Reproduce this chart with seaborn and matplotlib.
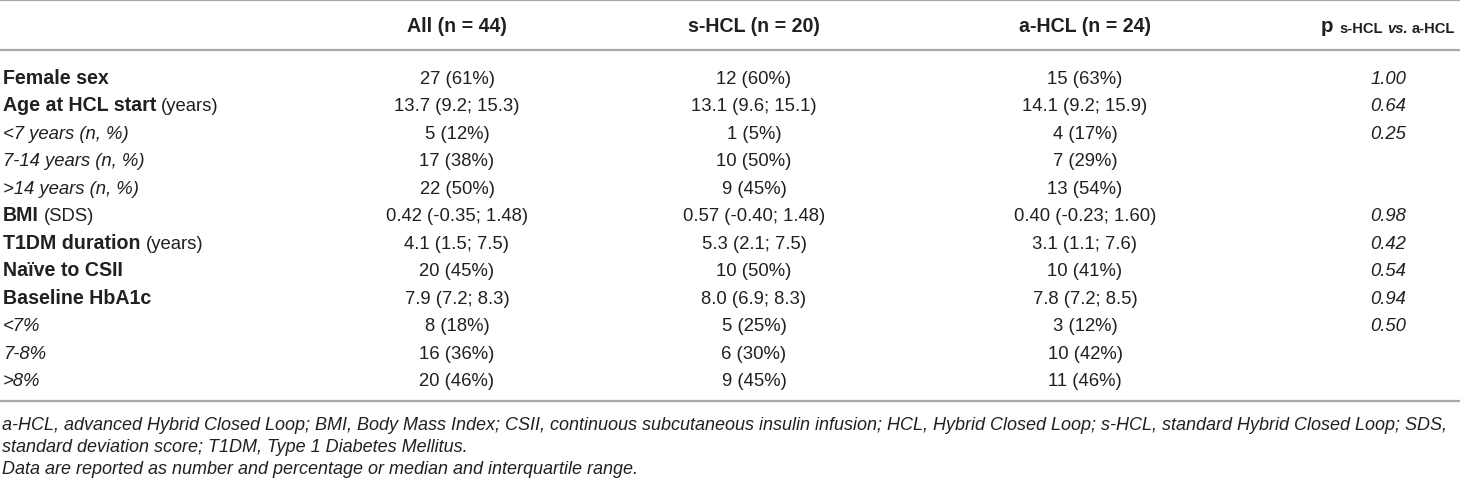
import matplotlib
matplotlib.use("Agg")
import matplotlib.pyplot as plt
import seaborn as sns

# ---------------- data ----------------
row_labels = ["Female sex", "Age at HCL start", "<7 years (n, %)", "7-14 years (n, %)",
              ">14 years (n, %)", "BMI", "T1DM duration", "Naïve to CSII",
              "Baseline HbA1c", "<7%", "7-8%", ">8%"]
label_suffix = ["", "(years)", "", "", "", "(SDS)", "(years)", "", "", "", "", ""]
label_bold = [True, True, False, False, False, True, True, True, True, False, False, False]

col_headers = ["All (n = 44)", "s-HCL (n = 20)", "a-HCL (n = 24)"]
all_vals = ["27 (61%)", "13.7 (9.2; 15.3)", "5 (12%)", "17 (38%)", "22 (50%)",
            "0.42 (-0.35; 1.48)", "4.1 (1.5; 7.5)", "20 (45%)", "7.9 (7.2; 8.3)",
            "8 (18%)", "16 (36%)", "20 (46%)"]
shcl_vals = ["12 (60%)", "13.1 (9.6; 15.1)", "1 (5%)", "10 (50%)", "9 (45%)",
             "0.57 (-0.40; 1.48)", "5.3 (2.1; 7.5)", "10 (50%)", "8.0 (6.9; 8.3)",
             "5 (25%)", "6 (30%)", "9 (45%)"]
ahcl_vals = ["15 (63%)", "14.1 (9.2; 15.9)", "4 (17%)", "7 (29%)", "13 (54%)",
             "0.40 (-0.23; 1.60)", "3.1 (1.1; 7.6)", "10 (41%)", "7.8 (7.2; 8.5)",
             "3 (12%)", "10 (42%)", "11 (46%)"]
p_vals = ["1.00", "0.64", "0.25", "", "", "0.98", "0.42", "0.54", "0.94", "0.50", "", ""]
p_header_main = "p"
p_header_sub = ["s-HCL", "vs.", "a-HCL"]

footnotes = [
    "a-HCL, advanced Hybrid Closed Loop; BMI, Body Mass Index; CSII, continuous subcutaneous insulin infusion; HCL, Hybrid Closed Loop; s-HCL, standard Hybrid Closed Loop; SDS,",
    "standard deviation score; T1DM, Type 1 Diabetes Mellitus.",
    "Data are reported as number and percentage or median and interquartile range.",
]

# ---------------- style / layout ----------------
sns.set_theme(style="white")
plt.rcParams['font.family'] = ['Liberation Sans', 'DejaVu Sans']

W, H = 1460, 485
fig = plt.figure(figsize=(W / 100, H / 100), dpi=100)
ax = fig.add_axes([0, 0, 1, 1])
ax.set_xlim(0, W)
ax.set_ylim(H, 0)
ax.axis('off')
sns.despine(ax=ax, left=True, bottom=True)
renderer = fig.canvas.get_renderer()

FS = 13.3
FS_B = FS * 1.06
FS_SUB = 10.6
TXT = '#231f20'
RULE = '#a9a9a9'
CAP_HALF = 6.6

label_x = 3
col_centers = [457, 754, 1085]
p_center = 1388
header_y = 25
row_y0, row_dy = 77, 27.5
foot_y0, foot_dy = 423, 22

rules_y = [1, 51, 402]


def txt(x, y, s, **kw):
    kw.setdefault('color', TXT)
    kw.setdefault('fontsize', FS)
    return ax.text(x, y, s, va='baseline', **kw)


def width(t):
    return t.get_window_extent(renderer).width


def space_w(fs, weight='normal', style='normal'):
    a = ax.text(0, 0, "aa", fontsize=fs, fontweight=weight, fontstyle=style)
    b = ax.text(0, 0, "a a", fontsize=fs, fontweight=weight, fontstyle=style)
    w = width(b) - width(a)
    a.remove(); b.remove()
    return w


for y in rules_y:
    ax.axhline(y, color=RULE, lw=1.6)

# header
hb = header_y + CAP_HALF
for c, h in zip(col_centers, col_headers):
    txt(c, hb, h, ha='center', fontweight='bold', fontsize=FS_B)

# p header: big "p" + small sub text
pt = txt(0, hb, p_header_main, fontweight='bold', fontsize=FS_B * 1.05)
sub_parts = []
for i, s in enumerate(p_header_sub):
    style = 'italic' if s == 'vs.' else 'normal'
    sub_parts.append(txt(0, hb + 1, s, fontweight='bold', fontstyle=style, fontsize=FS_SUB))
sp_main = space_w(FS_B * 1.05, 'bold')
sp_sub = space_w(FS_SUB, 'bold')
total = width(pt) + sp_main + sum(width(t) for t in sub_parts) + sp_sub * (len(sub_parts) - 1)
x = p_center - total / 2
pt.set_x(x)
x += width(pt) + sp_main
for t in sub_parts:
    t.set_x(x)
    x += width(t) + sp_sub

# body rows
sp_reg = space_w(FS)
for i, lab in enumerate(row_labels):
    yb = row_y0 + i * row_dy + CAP_HALF
    if label_bold[i]:
        t = txt(label_x, yb, lab, fontweight='bold', fontsize=FS_B)
        if label_suffix[i]:
            txt(label_x + width(t) + sp_reg, yb, label_suffix[i])
    else:
        txt(label_x, yb, lab, fontstyle='italic')
    for c, vals in zip(col_centers, [all_vals, shcl_vals, ahcl_vals]):
        txt(c, yb, vals[i], ha='center')
    if p_vals[i]:
        txt(p_center, yb, p_vals[i], ha='center', fontstyle='italic')

# footnotes
for j, f in enumerate(footnotes):
    txt(label_x - 1, foot_y0 + j * foot_dy + CAP_HALF, f, fontstyle='italic', fontsize=FS * 0.978)

fig.savefig("out.png", dpi=100)
